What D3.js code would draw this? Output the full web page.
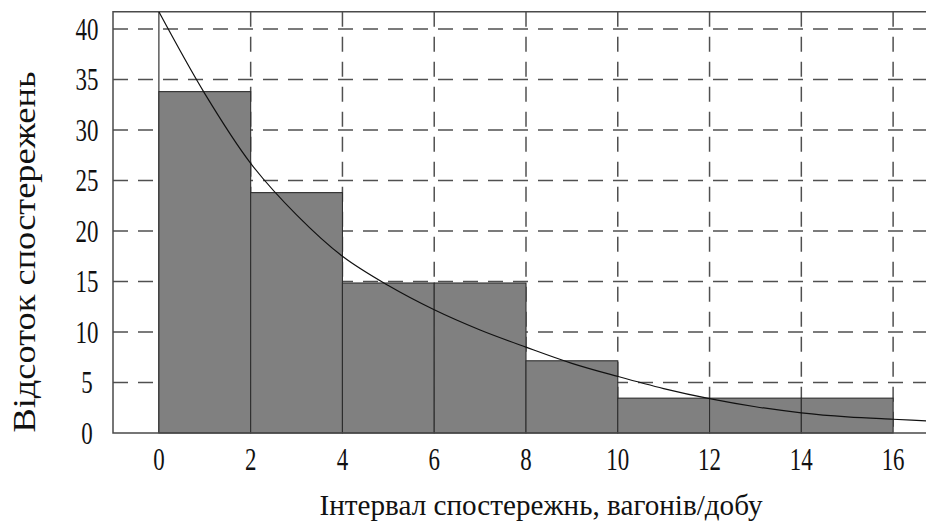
<!DOCTYPE html>
<html>
<head>
<meta charset="utf-8">
<script src="https://cdn.jsdelivr.net/npm/d3@7"></script>
<style>
  html, body { margin: 0; padding: 0; background: #fff; }
  svg { display: block; }
  svg text { font-family: 'Liberation Serif', Tinos, 'DejaVu Serif', serif; fill: #111; }
</style>
</head>
<body>
<svg id="chart" width="926" height="524"></svg>
<script>
// Histogram bins (interval start/end) and observed share, %
const binStart = [0, 2, 4, 6, 8, 10, 12, 14];
const binEnd   = [2, 4, 6, 8, 10, 12, 14, 16];
const binValue = [33.8, 23.8, 14.85, 14.85, 7.15, 3.45, 3.45, 3.45];

// Fitted theoretical curve, sampled points
const curveX = [0, 1, 2, 3, 4, 5, 6, 7, 8, 9, 10, 11, 12, 13, 14, 15, 16, 17];
const curveY = [41.7, 33.6, 26.7, 21.6, 17.5, 14.6, 12.2, 10.2, 8.5, 6.9, 5.6, 4.4, 3.4, 2.6, 2.0, 1.6, 1.36, 1.15];

// Axis ticks
const xTicks = [0, 2, 4, 6, 8, 10, 12, 14, 16];
const yTicks = [0, 5, 10, 15, 20, 25, 30, 35, 40];

const xTitle = "Інтервал спостережнь, вагонів/добу";
const yTitle = "Відсоток спостережень";

const serif = "'Liberation Serif', Tinos, 'DejaVu Serif', serif";
const svg = d3.select("#chart").attr("font-family", serif);

const x = d3.scaleLinear().domain([-1, 17]).range([113, 939]);
const y = d3.scaleLinear().domain([0, 40]).range([433, 29]);
const yTop = 41.7;

const pLeft = x(-1), pRight = x(17), pTop = y(yTop), pBottom = y(0);

svg.append("clipPath").attr("id", "plot")
  .append("rect").attr("x", pLeft).attr("y", pTop)
  .attr("width", pRight - pLeft).attr("height", pBottom - pTop);

const grid = svg.append("g").attr("clip-path", "url(#plot)");
const gridStyle = sel => sel.attr("stroke", "#505050").attr("stroke-width", 1.5)
  .attr("stroke-dasharray", "15,10").attr("fill", "none");

// horizontal dashed grid
grid.selectAll("line.h").data(yTicks.filter(d => d > 0)).join("line")
  .attr("class", "h")
  .attr("x1", pLeft).attr("x2", pRight)
  .attr("y1", d => y(d)).attr("y2", d => y(d))
  .call(gridStyle);

// vertical dashed grid
grid.selectAll("line.v").data(xTicks.filter(d => d > 0)).join("line")
  .attr("class", "v")
  .attr("x1", d => x(d)).attr("x2", d => x(d))
  .attr("y1", pTop).attr("y2", pBottom)
  .call(gridStyle);

// solid line at x = 0
grid.append("line")
  .attr("x1", x(0)).attr("x2", x(0)).attr("y1", pTop).attr("y2", pBottom)
  .attr("stroke", "#333").attr("stroke-width", 1.2);

// histogram bars
const bins = binStart.map((s, i) => ({ s, e: binEnd[i], v: binValue[i] }));
svg.append("g").selectAll("rect").data(bins).join("rect")
  .attr("x", d => x(d.s))
  .attr("y", d => y(d.v))
  .attr("width", d => x(d.e) - x(d.s))
  .attr("height", d => y(0) - y(d.v))
  .attr("fill", "#808080")
  .attr("stroke", "#2e2e2e")
  .attr("stroke-width", 1.1);

// frame: top, left, bottom
svg.append("path")
  .attr("d", `M${pRight},${pTop}H${pLeft}V${pBottom}H${pRight}`)
  .attr("fill", "none").attr("stroke", "#4a4a4a").attr("stroke-width", 1.5);

// fitted curve
const pts = curveX.map((cx, i) => [cx, curveY[i]]);
svg.append("g").attr("clip-path", "url(#plot)")
  .append("path")
  .datum(pts)
  .attr("d", d3.line().x(d => x(d[0])).y(d => y(d[1])).curve(d3.curveCatmullRom))
  .attr("fill", "none").attr("stroke", "#111").attr("stroke-width", 1.2);

// tick labels
const squeeze = 0.74;
svg.append("g").selectAll("text").data(xTicks).join("text")
  .attr("transform", d => `translate(${x(d)},470) scale(${squeeze},1)`)
  .attr("text-anchor", "middle")
  .attr("font-family", serif)
  .attr("font-size", 31)
  .text(d => d);

svg.append("g").selectAll("text").data(yTicks).join("text")
  .attr("transform", d => `translate(87,${y(d) + 10.5}) scale(${squeeze},1)`)
  .attr("text-anchor", "middle")
  .attr("font-family", serif)
  .attr("font-size", 31)
  .text(d => d);

// axis titles
svg.append("text")
  .attr("x", 541).attr("y", 515)
  .attr("text-anchor", "middle")
  .attr("font-family", serif)
  .attr("font-size", 29)
  .attr("textLength", 443).attr("lengthAdjust", "spacingAndGlyphs")
  .text(xTitle);

svg.append("text")
  .attr("transform", "translate(35,252) rotate(-90)")
  .attr("text-anchor", "middle")
  .attr("font-family", serif)
  .attr("font-size", 31)
  .attr("textLength", 361).attr("lengthAdjust", "spacingAndGlyphs")
  .text(yTitle);
</script>
</body>
</html>
